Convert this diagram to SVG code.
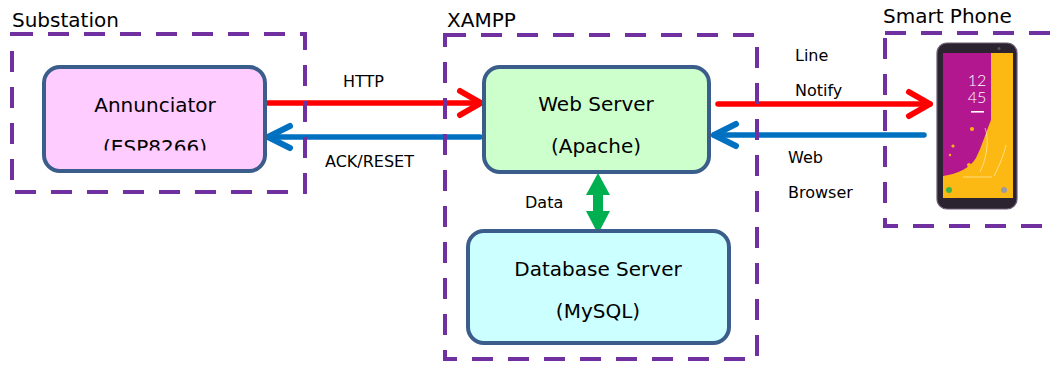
<svg xmlns="http://www.w3.org/2000/svg" width="1057" height="365" viewBox="0 0 1057 365">
  <defs>
    <style>
      .zone { fill: none; stroke: #7030a0; stroke-width: 4; stroke-dasharray: 21 15; }
      .node { stroke: #3b5d8b; stroke-width: 4; }
      .title { font-family: "DejaVu Sans", "Noto Sans", sans-serif; font-size: 20px; fill: #000; }
      .txt { font-family: "DejaVu Sans", "Noto Sans", sans-serif; font-size: 20px; fill: #000; text-anchor: middle; }
      .lbl { font-family: "DejaVu Sans", "Noto Sans", sans-serif; font-size: 16px; fill: #000; }
      .req { fill: none; stroke: #ff0000; stroke-width: 5.5; stroke-linecap: round; }
      .rsp { fill: none; stroke: #0070c0; stroke-width: 5.5; stroke-linecap: round; }
      .clock { font-family: "Lato", "Open Sans", sans-serif; font-weight: 300; font-size: 16px; fill: #fff; text-anchor: middle; }
    </style>
    <marker id="headRed" markerUnits="userSpaceOnUse" orient="auto" markerWidth="40" markerHeight="40" refX="0" refY="0" viewBox="-30 -20 40 40" overflow="visible">
      <path d="M-21,-12 L0,0 L-21,12" fill="none" stroke="#ff0000" stroke-width="6" stroke-linecap="round" stroke-linejoin="round"/>
    </marker>
    <marker id="headBlue" markerUnits="userSpaceOnUse" orient="auto" markerWidth="40" markerHeight="40" refX="0" refY="0" viewBox="-30 -20 40 40" overflow="visible">
      <path d="M-22,-11 L0,0 L-22,11" fill="none" stroke="#0070c0" stroke-width="6" stroke-linecap="round" stroke-linejoin="round"/>
    </marker>
    <!-- the second line of the Annunciator label is cut by its text frame -->
    <clipPath id="annClip">
      <rect x="44" y="66" width="222" height="84.5"/>
    </clipPath>
  </defs>

  <rect width="1057" height="365" fill="#ffffff"/>

  <!-- zone titles -->
  <text class="title" x="12" y="27">Substation</text>
  <text class="title" x="447" y="27">XAMPP</text>
  <text class="title" x="883" y="23">Smart Phone</text>

  <!-- connectors -->
  <g id="connectors">
    <path class="req" d="M266,103 H481" marker-end="url(#headRed)"/>
    <path class="rsp" d="M480,137 H268" marker-end="url(#headBlue)"/>
    <path class="req" d="M718,104 H930" marker-end="url(#headRed)"/>
    <path class="rsp" d="M924,135 H714" marker-end="url(#headBlue)"/>
    <path d="M598,173 L610,195 L603,195 L603,211 L610,211 L598,234 L586,211 L593,211 L593,195 L586,195 Z" fill="#00b050"/>
    <text class="lbl" x="343" y="87">HTTP</text>
    <text class="lbl" x="325" y="167">ACK/RESET</text>
    <text class="lbl" x="525" y="208">Data</text>
    <text class="lbl" x="795" y="61">Line</text>
    <text class="lbl" x="795" y="96">Notify</text>
    <text class="lbl" x="788" y="163">Web</text>
    <text class="lbl" x="788" y="198">Browser</text>
  </g>

  <!-- Annunciator -->
  <g id="annunciator">
    <rect class="node" x="44" y="67" width="221" height="104" rx="16" fill="#ffccff"/>
    <text class="txt" x="155" y="112">Annunciator</text>
    <text class="txt" x="155" y="154" clip-path="url(#annClip)">(ESP8266)</text>
  </g>

  <!-- Web Server -->
  <g id="web-server">
    <rect class="node" x="484" y="67" width="225" height="105" rx="16" fill="#ccffcc"/>
    <text class="txt" x="596" y="111">Web Server</text>
    <text class="txt" x="596" y="153">(Apache)</text>
  </g>

  <!-- Database Server -->
  <g id="database-server">
    <rect class="node" x="468" y="231" width="261" height="112" rx="16" fill="#ccffff"/>
    <text class="txt" x="598" y="276">Database Server</text>
    <text class="txt" x="598" y="318">(MySQL)</text>
  </g>

  <!-- Smart phone -->
  <g id="smart-phone">
    <rect x="937" y="43" width="80" height="166" rx="10" fill="#2b2430" stroke="#6d5c74" stroke-width="1.2"/>
    <circle cx="999" cy="48.5" r="1.5" fill="#555"/>
    <rect x="943" y="53" width="70" height="145" fill="#fdb913"/>
    <path d="M943,53 H991 V120 C986,132 982,146 976,158 C970,168 958,174 943,176 Z" fill="#b3178f"/>
    <circle cx="972" cy="129" r="2" fill="#fdb913"/>
    <circle cx="953" cy="146" r="1.6" fill="#fdb913"/>
    <circle cx="969" cy="165" r="2" fill="#fdb913"/>
    <circle cx="950" cy="155" r="1.2" fill="#fdb913"/>
    <path d="M963,177 H992 M985,128 C990,140 986,160 980,172 M1006,145 C1003,158 998,168 994,176" stroke="#fff2c0" stroke-width="0.8" fill="none" opacity="0.8"/>
    <text class="clock" x="977" y="86">12</text>
    <text class="clock" x="977" y="103">45</text>
    <rect x="971" y="111" width="13" height="1.6" fill="#ffffff"/>
    <circle cx="949" cy="190" r="3" fill="#3cb44a"/>
    <circle cx="1004" cy="190" r="3" fill="#9a9aa6"/>
  </g>

  <!-- dashed zones -->
  <g id="zones">
    <rect class="zone" x="12" y="34" width="293" height="158"/>
    <rect class="zone" x="445" y="35" width="312" height="324"/>
    <rect class="zone" x="885" y="33" width="180" height="193"/>
  </g>
</svg>
